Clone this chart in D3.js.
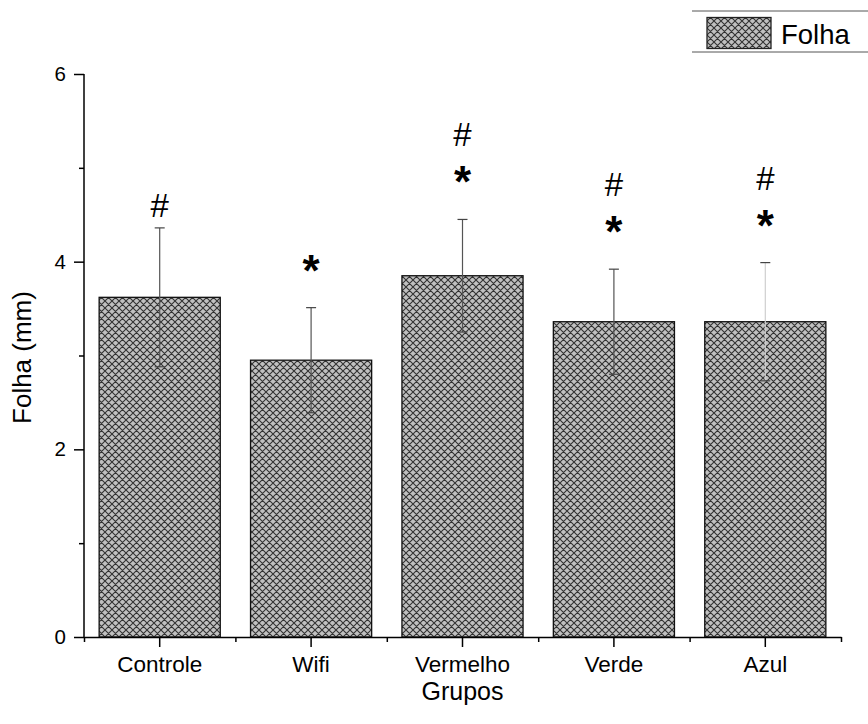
<!DOCTYPE html>
<html>
<head>
<meta charset="utf-8">
<script src="https://cdn.jsdelivr.net/npm/d3@7"></script>
<style>
  html, body { margin: 0; padding: 0; background: #fff; }
  svg { display: block; font-family: "Liberation Sans", Arial, sans-serif; }
</style>
</head>
<body>
<svg id="chart" width="868" height="724"></svg>
<script>
// Group names, mean leaf size (mm) and standard deviation
const categories = ["Controle", "Wifi", "Vermelho", "Verde", "Azul"];
const means = [3.62, 2.95, 3.85, 3.36, 3.36];
const errors = [0.74, 0.56, 0.60, 0.56, 0.63];
// Significance marks above each bar, top to bottom
const marks = [["#"], ["*"], ["#", "*"], ["#", "*"], ["#", "*"]];
const yMajorTicks = [0, 2, 4, 6];
const yMinorTicks = [1, 3, 5];
const seriesName = "Folha";
const xTitle = "Grupos";
const yTitle = "Folha (mm)";

const svg = d3.select("#chart");
const plotLeft = 84, plotRight = 841, plotTop = 74, plotBottom = 637;

const x = d3.scaleBand().domain(categories).range([plotLeft, plotRight])
  .paddingInner(0.2).paddingOuter(0.1);
const xEdges = d3.scaleLinear().domain([0.5, categories.length + 0.5]).range([plotLeft, plotRight]);
const y = d3.scaleLinear().domain([0, 6]).range([plotBottom, plotTop]);

// Cross-hatch fill
const defs = svg.append("defs");
const pat = defs.append("pattern").attr("id", "hatch")
  .attr("patternUnits", "userSpaceOnUse").attr("width", 7).attr("height", 7);
pat.append("rect").attr("width", 7).attr("height", 7).attr("fill", "#c0c0c0");
pat.append("path").attr("d", "M0,0L7,7M7,0L0,7M-1,6L1,8M6,-1L8,1M-1,1L1,-1M6,8L8,6")
  .attr("stroke", "#333").attr("stroke-width", 1.1).attr("fill", "none");

const data = categories.map((c, i) => ({ c, m: means[i], e: errors[i], marks: marks[i] }));

// Bars
svg.append("g").selectAll("rect").data(data).join("rect")
  .attr("x", d => x(d.c)).attr("width", x.bandwidth())
  .attr("y", d => y(d.m)).attr("height", d => y(0) - y(d.m))
  .attr("fill", "url(#hatch)").attr("stroke", "#111").attr("stroke-width", 1.3);

// Error bars
const eb = svg.append("g").selectAll("g").data(data).join("g")
  .attr("transform", d => `translate(${x(d.c) + x.bandwidth() / 2},0)`);
eb.append("line")
  .attr("y1", d => y(d.m + d.e)).attr("y2", d => y(d.m - d.e))
  .attr("stroke", (d, i) => i === categories.length - 1 ? "#cfcfcf" : "#555")
  .attr("stroke-width", 1.2);
eb.selectAll("line.cap").data(d => [d.m + d.e, d.m - d.e]).join("line")
  .attr("class", "cap").attr("x1", -5).attr("x2", 5)
  .attr("y1", v => y(v)).attr("y2", v => y(v))
  .attr("stroke", "#444").attr("stroke-width", 1.2);

// Significance marks
eb.each(function(d) {
  const g = d3.select(this);
  const capY = y(d.m + d.e);
  const n = d.marks.length;
  d.marks.forEach((s, k) => {
    const fromBottom = n - 1 - k;
    const bottomCenter = d.marks[n - 1] === "*" ? capY - 46 : capY - 23;
    const cy = bottomCenter - fromBottom * 39;
    if (s === "*") {
      g.append("text").attr("x", 0).attr("y", cy + 24).attr("text-anchor", "middle")
        .attr("font-size", 44).attr("font-weight", "bold").attr("fill", "#000").text(s);
    } else {
      g.append("text").attr("x", 0).attr("y", cy + 12).attr("text-anchor", "middle")
        .attr("font-size", 33).attr("fill", "#000").text(s);
    }
  });
});

// Y axis
const yAxis = svg.append("g").attr("transform", `translate(${plotLeft},0)`)
  .call(d3.axisLeft(y).tickValues(yMajorTicks).tickSize(10).tickPadding(8).tickFormat(d3.format("d")));
svg.append("g").attr("transform", `translate(${plotLeft},0)`)
  .call(d3.axisLeft(y).tickValues(yMinorTicks).tickSize(5).tickFormat(""))
  .select(".domain").remove();
yAxis.select(".domain").attr("d", `M0,${plotBottom}V${plotTop}`);
yAxis.selectAll(".tick text").attr("font-size", 20.5);

// X axis
const xAxis = svg.append("g").attr("transform", `translate(0,${plotBottom})`)
  .call(d3.axisBottom(x).tickSize(10).tickSizeOuter(0).tickPadding(9));
svg.append("g").attr("transform", `translate(0,${plotBottom})`)
  .call(d3.axisBottom(xEdges).tickValues(d3.range(0.5, categories.length + 1, 1)).tickSize(5).tickFormat(""))
  .select(".domain").remove();
xAxis.selectAll(".tick text").attr("font-size", 22.5);

svg.selectAll(".tick text").attr("font-family", "Liberation Sans, Arial, sans-serif").attr("fill", "#000");
svg.selectAll(".domain, .tick line").attr("stroke", "#000").attr("stroke-width", 1.5);

// Axis titles
svg.append("text").attr("x", (plotLeft + plotRight) / 2).attr("y", 700).attr("text-anchor", "middle")
  .attr("font-size", 25).text(xTitle);
svg.append("text").attr("transform", `translate(31,${(plotTop + plotBottom) / 2 + 2}) rotate(-90)`)
  .attr("text-anchor", "middle").attr("font-size", 26).text(yTitle);

// Legend
const lg = svg.append("g");
lg.append("line").attr("x1", 692).attr("x2", 868).attr("y1", 11).attr("y2", 11).attr("stroke", "#555");
lg.append("line").attr("x1", 692).attr("x2", 868).attr("y1", 52).attr("y2", 52).attr("stroke", "#555");
lg.append("rect").attr("x", 707).attr("y", 17.5).attr("width", 64).attr("height", 31)
  .attr("fill", "url(#hatch)").attr("stroke", "#222").attr("stroke-width", 1.3);
lg.append("text").attr("x", 781).attr("y", 44).attr("font-size", 27.5).text(seriesName);
</script>
</body>
</html>
